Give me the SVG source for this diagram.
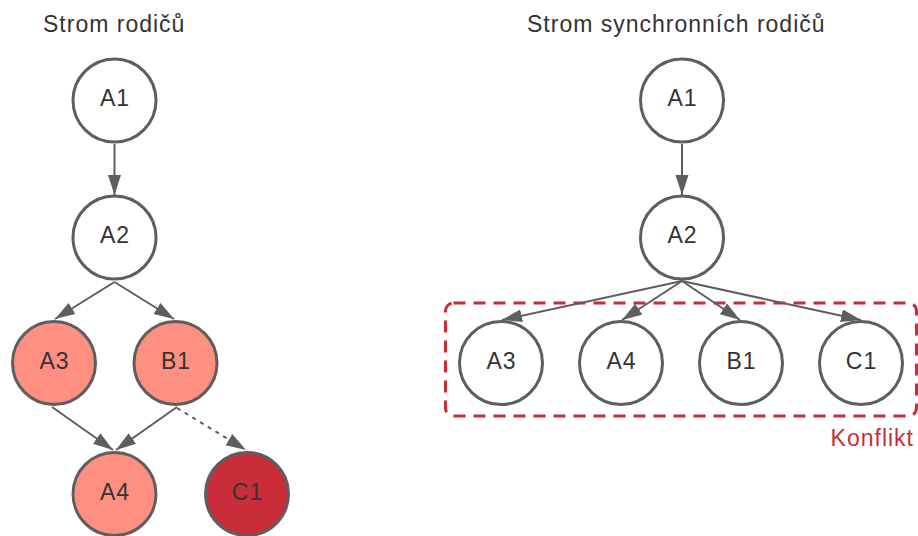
<svg xmlns="http://www.w3.org/2000/svg" width="918" height="536" viewBox="0 0 918 536">
  <defs>
    <style>
      .node circle { stroke: #5e5e5e; stroke-width: 3; fill: #ffffff; }
      .node.hit circle { fill: #ff8f80; }
      .node.bad circle { fill: #c92d39; }
      .node text, .title { font-family: "Liberation Sans", Arial, sans-serif; font-size: 23px; fill: #333333; letter-spacing: 1px; }
      .node text { text-anchor: middle; }
      .edge { stroke: #5e5e5e; stroke-width: 2; fill: none; marker-end: url(#arrow); }
      .edge.weak { stroke-dasharray: 4 5; }
      .zone { fill: none; stroke: #c92d39; stroke-width: 3; stroke-dasharray: 12 8; }
      .zone-label { font-family: "Liberation Sans", Arial, sans-serif; font-size: 23px; fill: #c92d39; letter-spacing: 1px; text-anchor: end; }
    </style>
    <marker id="arrow" markerUnits="userSpaceOnUse" markerWidth="20" markerHeight="14" refX="20" refY="6.5" orient="auto">
      <path d="M0,0 L20,6.5 L0,13 Z" fill="#5e5e5e"/>
    </marker>
  </defs>

  <rect width="918" height="536" fill="#ffffff"/>

  <!-- Titles -->
  <text class="title" x="43" y="32">Strom rodičů</text>
  <text class="title" x="527" y="32">Strom synchronních rodičů</text>

  <!-- Conflict zone around the synchronized children -->
  <g id="conflict">
    <rect class="zone" x="445.5" y="303" width="471" height="113" rx="8" ry="8"/>
    <text class="zone-label" x="914" y="446">Konflikt</text>
  </g>

  <!-- Connectors -->
  <g id="connectors">
    <line class="edge" x1="114.5" y1="144" x2="114.5" y2="195"/>
    <line class="edge" x1="114.5" y1="282" x2="55" y2="319"/>
    <line class="edge" x1="114.5" y1="282" x2="174" y2="319"/>
    <line class="edge" x1="52" y1="407" x2="113" y2="450"/>
    <line class="edge" x1="177" y1="407" x2="116" y2="450"/>
    <line class="edge weak" x1="177" y1="408" x2="246" y2="450"/>

    <line class="edge" x1="682" y1="144" x2="682" y2="195"/>
    <line class="edge" x1="682" y1="281" x2="502" y2="320"/>
    <line class="edge" x1="682" y1="281" x2="622" y2="320"/>
    <line class="edge" x1="682" y1="281" x2="740" y2="320"/>
    <line class="edge" x1="682" y1="281" x2="861" y2="320"/>
  </g>

  <!-- Parent tree -->
  <g id="p-A1" class="node"><circle cx="114.5" cy="100.5" r="41.5"/><text x="115" y="106">A1</text></g>
  <g id="p-A2" class="node"><circle cx="114.5" cy="237.5" r="41.5"/><text x="115" y="243">A2</text></g>
  <g id="p-A3" class="node hit"><circle cx="54" cy="363" r="41.5"/><text x="54.5" y="368.5">A3</text></g>
  <g id="p-B1" class="node hit"><circle cx="175.5" cy="363" r="41.5"/><text x="176" y="368.5">B1</text></g>
  <g id="p-A4" class="node hit"><circle cx="114.5" cy="494" r="41.5"/><text x="115" y="499.5">A4</text></g>
  <g id="p-C1" class="node bad"><circle cx="247" cy="494" r="41.5"/><text x="247.5" y="499.5">C1</text></g>

  <!-- Synchronized parent tree -->
  <g id="s-A1" class="node"><circle cx="682" cy="100.5" r="41.5"/><text x="682.5" y="106">A1</text></g>
  <g id="s-A2" class="node"><circle cx="682" cy="237.5" r="41.5"/><text x="682.5" y="243">A2</text></g>
  <g id="s-A3" class="node"><circle cx="501" cy="363" r="41.5"/><text x="501.5" y="368.5">A3</text></g>
  <g id="s-A4" class="node"><circle cx="621" cy="363" r="41.5"/><text x="621.5" y="368.5">A4</text></g>
  <g id="s-B1" class="node"><circle cx="741" cy="363" r="41.5"/><text x="741.5" y="368.5">B1</text></g>
  <g id="s-C1" class="node"><circle cx="861" cy="363" r="41.5"/><text x="861.5" y="368.5">C1</text></g>
</svg>
